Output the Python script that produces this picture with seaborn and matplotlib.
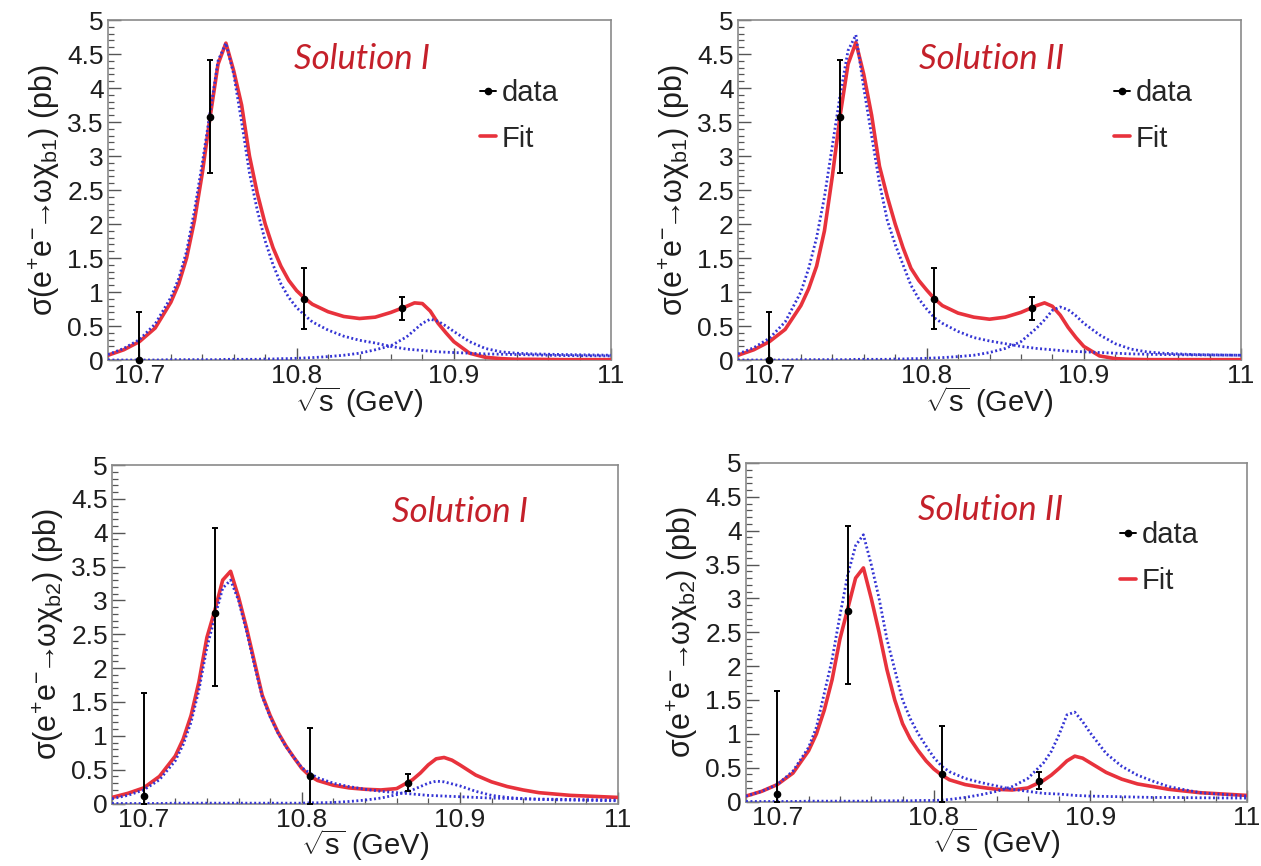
import matplotlib
matplotlib.use('Agg')
import numpy as np
import pandas as pd
import matplotlib.pyplot as plt
import seaborn as sns
from matplotlib.lines import Line2D
from matplotlib.ticker import MultipleLocator, FixedLocator, FuncFormatter

# ---------------- data ----------------
energy = [10.68, 10.69, 10.70, 10.71, 10.72, 10.725, 10.73, 10.735, 10.74, 10.745,
          10.75, 10.755, 10.76, 10.765, 10.77, 10.775, 10.78, 10.785, 10.79, 10.795,
          10.80, 10.805, 10.81, 10.82, 10.83, 10.84, 10.85, 10.86, 10.87, 10.875,
          10.88, 10.885, 10.89, 10.895, 10.90, 10.91, 10.92, 10.93, 10.94, 10.95,
          10.97, 11.00]

# chi_b1, Solution I
b1_s1_fit = [0.07, 0.15, 0.27, 0.47, 0.85, 1.12, 1.50, 2.05, 2.75, 3.58,
             4.35, 4.66, 4.25, 3.75, 3.00, 2.45, 2.00, 1.65, 1.38, 1.17,
             1.02, 0.91, 0.82, 0.71, 0.64, 0.61, 0.63, 0.70, 0.79, 0.84,
             0.83, 0.72, 0.54, 0.40, 0.27, 0.10, 0.04, 0.02, 0.01, 0.01,
             0.005, 0.005]
b1_s1_r1 = [0.08, 0.17, 0.30, 0.53, 0.92, 1.20, 1.60, 2.20, 2.90, 3.65,
            4.40, 4.66, 4.20, 3.50, 2.75, 2.20, 1.75, 1.40, 1.12, 0.92,
            0.77, 0.66, 0.56, 0.44, 0.35, 0.29, 0.25, 0.20, 0.16, 0.15,
            0.14, 0.13, 0.12, 0.115, 0.11, 0.10, 0.09, 0.085, 0.08, 0.075,
            0.065, 0.06]
b1_s1_r2 = [0.0, 0.0, 0.0, 0.0, 0.005, 0.005, 0.005, 0.005, 0.005, 0.005,
            0.005, 0.01, 0.01, 0.01, 0.01, 0.01, 0.015, 0.015, 0.02, 0.02,
            0.025, 0.03, 0.035, 0.05, 0.07, 0.10, 0.15, 0.21, 0.34, 0.44,
            0.54, 0.60, 0.57, 0.50, 0.42, 0.27, 0.17, 0.12, 0.10, 0.09,
            0.08, 0.07]

# chi_b1, Solution II
b1_s2_fit = [0.07, 0.15, 0.27, 0.45, 0.80, 1.05, 1.38, 1.90, 2.70, 3.60,
             4.35, 4.67, 4.20, 3.60, 2.85, 2.40, 2.00, 1.65, 1.35, 1.17,
             1.03, 0.90, 0.80, 0.69, 0.63, 0.60, 0.63, 0.70, 0.80, 0.84,
             0.79, 0.66, 0.48, 0.33, 0.20, 0.06, 0.02, 0.01, 0.005, 0.005,
             0.005, 0.005]
b1_s2_r1 = [0.09, 0.18, 0.32, 0.56, 1.00, 1.35, 1.80, 2.40, 3.15, 3.90,
            4.55, 4.78, 4.00, 3.30, 2.60, 2.05, 1.70, 1.40, 1.10, 0.90,
            0.75, 0.62, 0.54, 0.42, 0.33, 0.28, 0.24, 0.20, 0.17, 0.16,
            0.15, 0.14, 0.13, 0.125, 0.12, 0.11, 0.10, 0.09, 0.085, 0.08,
            0.075, 0.07]
b1_s2_r2 = [0.0, 0.0, 0.0, 0.0, 0.005, 0.005, 0.005, 0.005, 0.005, 0.005,
            0.005, 0.01, 0.01, 0.01, 0.01, 0.01, 0.015, 0.015, 0.02, 0.02,
            0.025, 0.03, 0.035, 0.05, 0.07, 0.11, 0.17, 0.27, 0.47, 0.59,
            0.73, 0.78, 0.74, 0.65, 0.54, 0.37, 0.24, 0.16, 0.12, 0.10,
            0.08, 0.07]

# chi_b2, Solution I
b2_s1_fit = [0.09, 0.15, 0.23, 0.40, 0.70, 0.95, 1.30, 1.80, 2.45, 2.85,
             3.30, 3.43, 3.05, 2.60, 2.10, 1.60, 1.30, 1.05, 0.85, 0.68,
             0.52, 0.41, 0.34, 0.27, 0.23, 0.21, 0.20, 0.22, 0.35, 0.45,
             0.57, 0.66, 0.68, 0.64, 0.57, 0.42, 0.32, 0.25, 0.20, 0.16,
             0.12, 0.09]
b2_s1_r1 = [0.07, 0.12, 0.20, 0.35, 0.63, 0.87, 1.20, 1.68, 2.30, 2.75,
            3.18, 3.30, 3.00, 2.55, 2.05, 1.58, 1.28, 1.04, 0.84, 0.68,
            0.53, 0.45, 0.38, 0.30, 0.25, 0.21, 0.18, 0.16, 0.14, 0.13,
            0.12, 0.115, 0.11, 0.105, 0.10, 0.09, 0.08, 0.075, 0.07, 0.065,
            0.06, 0.05]
b2_s1_r2 = [0.0, 0.0, 0.0, 0.0, 0.005, 0.005, 0.005, 0.005, 0.005, 0.005,
            0.005, 0.005, 0.005, 0.005, 0.005, 0.005, 0.005, 0.005, 0.005, 0.005,
            0.005, 0.01, 0.01, 0.015, 0.03, 0.05, 0.08, 0.13, 0.20, 0.25,
            0.30, 0.33, 0.32, 0.29, 0.26, 0.18, 0.12, 0.09, 0.07, 0.06,
            0.05, 0.04]

# chi_b2, Solution II
b2_s2_fit = [0.08, 0.15, 0.25, 0.42, 0.75, 1.00, 1.35, 1.80, 2.40, 2.85,
             3.30, 3.45, 3.00, 2.50, 1.95, 1.50, 1.15, 0.92, 0.75, 0.60,
             0.48, 0.39, 0.32, 0.25, 0.21, 0.18, 0.17, 0.20, 0.31, 0.39,
             0.49, 0.60, 0.67, 0.64, 0.57, 0.43, 0.33, 0.26, 0.22, 0.18,
             0.13, 0.09]
b2_s2_r1 = [0.08, 0.15, 0.25, 0.45, 0.80, 1.10, 1.60, 2.10, 2.75, 3.35,
            3.78, 3.94, 3.50, 3.00, 2.40, 1.95, 1.50, 1.22, 1.00, 0.82,
            0.65, 0.52, 0.44, 0.34, 0.28, 0.23, 0.18, 0.15, 0.12, 0.115,
            0.11, 0.10, 0.09, 0.085, 0.08, 0.075, 0.07, 0.065, 0.06, 0.06,
            0.055, 0.05]
b2_s2_r2 = [0.0, 0.0, 0.0, 0.0, 0.005, 0.005, 0.005, 0.005, 0.005, 0.005,
            0.005, 0.005, 0.005, 0.01, 0.01, 0.01, 0.01, 0.01, 0.015, 0.015,
            0.015, 0.02, 0.03, 0.06, 0.10, 0.15, 0.22, 0.34, 0.57, 0.74,
            0.99, 1.28, 1.32, 1.18, 1.01, 0.71, 0.52, 0.39, 0.30, 0.22,
            0.13, 0.08]

data_x = [10.70, 10.745, 10.805, 10.867]
b1_data_y = [0.0, 3.58, 0.90, 0.76]
b1_err_lo = [0.0, 0.83, 0.45, 0.17]
b1_err_hi = [0.71, 0.83, 0.45, 0.17]
b2_data_y = [0.11, 2.81, 0.40, 0.31]
b2_err_lo = [0.11, 1.07, 0.40, 0.13]
b2_err_hi = [1.52, 1.26, 0.72, 0.13]

titles = ['Solution I', 'Solution II', 'Solution I', 'Solution II']
x_ticks = [10.7, 10.8, 10.9, 11.0]
x_tick_labels = ['10.7', '10.8', '10.9', '11']

# ---------------- style ----------------
sns.set_theme(style='ticks')
plt.rcParams['font.family'] = ['Liberation Sans', 'DejaVu Sans']
plt.rcParams['mathtext.fontset'] = 'custom'
plt.rcParams['mathtext.rm'] = 'Liberation Sans'
plt.rcParams['mathtext.it'] = 'Liberation Sans'
plt.rcParams['mathtext.default'] = 'regular'

RED = '#e8323c'
BLUE = '#3434d4'
TITLE_RED = '#c4202a'
FRAME = '#8a8a8a'
TXT = '#1e1e1e'

W, H = 1261, 866
fig = plt.figure(figsize=(W / 100, H / 100), dpi=100)


def frac(l, t, w, h):
    return [l / W, 1 - (t + h) / H, w / W, h / H]


rects = [(108, 20, 503, 340), (738, 20, 503, 340),
         (112, 465, 506, 338.5), (746, 463, 501, 338.5)]

panels = [
    (b1_s1_fit, b1_s1_r1, b1_s1_r2, b1_data_y, b1_err_lo, b1_err_hi, 'b1', True, (0.505, 0.886), (0.740, 0.826)),
    (b1_s2_fit, b1_s2_r1, b1_s2_r2, b1_data_y, b1_err_lo, b1_err_hi, 'b1', True, (0.505, 0.886), (0.748, 0.826)),
    (b2_s1_fit, b2_s1_r1, b2_s1_r2, b2_data_y, b2_err_lo, b2_err_hi, 'b2', False, (0.687, 0.862), None),
    (b2_s2_fit, b2_s2_r1, b2_s2_r2, b2_data_y, b2_err_lo, b2_err_hi, 'b2', True, (0.489, 0.860), (0.747, 0.828)),
]

for i, (rect, p) in enumerate(zip(rects, panels)):
    fit, r1, r2, dy, elo, ehi, sub, show_leg, tpos, lpos = p
    ax = fig.add_axes(frac(*rect))
    df = pd.DataFrame({'E': energy, 'fit': fit, 'r1': r1, 'r2': r2})
    sns.lineplot(data=df, x='E', y='fit', ax=ax, color=RED, lw=2.6,
                 estimator=None, zorder=3)
    for col in ['r1', 'r2']:
        sns.lineplot(data=df, x='E', y=col, ax=ax, color=BLUE, lw=2.0,
                     linestyle=(0, (0.7, 0.9)), estimator=None, zorder=4)
    ax.errorbar(data_x, dy, yerr=[elo, ehi], fmt='o', color='black', ms=4.5,
                elinewidth=1.4, capsize=2.5, capthick=1.4, zorder=6, clip_on=False)

    ax.set_xlim(10.68, 11.0)
    ax.set_ylim(0, 5)
    ax.xaxis.set_major_locator(FixedLocator(x_ticks))
    ax.set_xticklabels(x_tick_labels)
    ax.xaxis.set_minor_locator(MultipleLocator(0.02))
    ax.yaxis.set_major_locator(MultipleLocator(0.5))
    ax.yaxis.set_major_formatter(FuncFormatter(lambda v, _: f'{v:g}'))
    ax.yaxis.set_minor_locator(MultipleLocator(0.1))
    ax.tick_params(which='both', direction='in', top=False, right=False,
                   color='#555555', labelcolor=TXT)
    ax.tick_params(which='major', length=9, width=1.0, labelsize=19, pad=3)
    ax.tick_params(which='minor', length=4.5, width=0.9)
    for s in ax.spines.values():
        s.set_color(FRAME)
        s.set_linewidth(1.2)

    ax.set_xlabel(r'$\sqrt{s}$ (GeV)', fontsize=21, color=TXT, labelpad=-3)
    ax.set_ylabel(r'$\sigma(e^{+}e^{-}\!\!\rightarrow\!\!\omega\chi_{' + sub + r'})$ (pb)',
                  fontsize=22, color=TXT, labelpad=4)

    ax.text(tpos[0], tpos[1], titles[i], transform=ax.transAxes, ha='center',
            va='center', fontsize=25, style='italic', color=TITLE_RED,
            family=['Lato', 'DejaVu Sans'])

    if show_leg:
        handles = [Line2D([], [], color='black', marker='o', ms=4.5, lw=1.4),
                   Line2D([], [], color=RED, lw=2.6)]
        ax.legend(handles, ['data', 'Fit'], loc='upper left', bbox_to_anchor=lpos,
                  frameon=False, fontsize=21, handlelength=0.55, handletextpad=0.2,
                  labelspacing=0.6, borderaxespad=0, borderpad=0)

fig.savefig('out.png', dpi=100)
